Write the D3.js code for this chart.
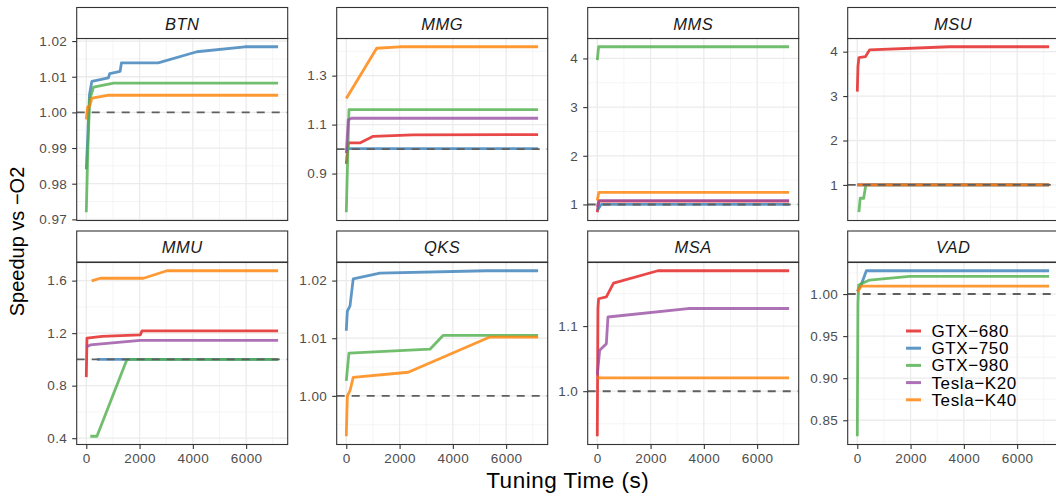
<!DOCTYPE html>
<html>
<head>
<meta charset="utf-8">
<script src="https://cdn.jsdelivr.net/npm/d3@7"></script>
<style>
  html, body { margin: 0; padding: 0; background: #ffffff; }
  svg { display: block; }
  text { font-family: "Liberation Sans", Arial, Helvetica, sans-serif; }
</style>
</head>
<body>
<svg id="chart" width="1056" height="497"></svg>
<script>
// ---------------- DATA ----------------
const panelNames = ["BTN", "MMG", "MMS", "MSU", "MMU", "QKS", "MSA", "VAD"];
const gpuNames = ["GTX\u2212680", "GTX\u2212750", "GTX\u2212980", "Tesla\u2212K20", "Tesla\u2212K40"];
const gpuColors = ["#E41A1C", "#377EB8", "#4DAF4A", "#984EA3", "#FF7F00"];
const xTicks = [0, 2000, 4000, 6000];
const baseline = 1.0;

// [tuning time (s), speedup]
const BTN_GTX750 = [[0,0.984],[50,0.992],[120,1.005],[210,1.0087],[830,1.0097],[880,1.0109],[1270,1.0115],[1320,1.0139],[2700,1.0139],[4150,1.0170],[5950,1.0184],[7200,1.0184]];
const BTN_GTX980 = [[0,0.972],[60,0.990],[125,1.0036],[275,1.0071],[1025,1.0082],[7200,1.0082]];
const BTN_K40    = [[0,0.998],[50,1.0015],[130,1.0018],[210,1.0040],[800,1.0048],[7200,1.0048]];

const MMG_GTX680 = [[0,0.94],[75,1.025],[510,1.025],[1010,1.052],[2500,1.058],[7200,1.059]];
const MMG_GTX750 = [[0,1.0],[100,1.002],[7200,1.002]];
const MMG_GTX980 = [[0,0.742],[100,1.161],[7200,1.161]];
const MMG_K20    = [[0,0.984],[75,1.12],[200,1.126],[7200,1.126]];
const MMG_K40    = [[0,1.207],[1140,1.412],[2000,1.418],[7200,1.418]];

const MMS_GTX680 = [[0,0.84],[60,1.07],[7200,1.07]];
const MMS_GTX750 = [[0,0.88],[150,1.0],[7200,1.0]];
const MMS_GTX980 = [[0,3.965],[50,4.24],[7200,4.24]];
const MMS_K20    = [[0,0.95],[60,1.08],[7200,1.08]];
const MMS_K40    = [[0,1.08],[60,1.25],[7200,1.25]];

const MSU_GTX680 = [[0,3.1],[25,3.66],[60,3.865],[310,3.89],[460,4.04],[3460,4.11],[7200,4.11]];
const MSU_GTX750 = [[0,1.0],[7200,1.0]];
const MSU_GTX980 = [[60,0.385],[110,0.70],[240,0.70],[320,1.0],[7200,1.0]];
const MSU_K20    = [[0,1.0],[7200,1.0]];
const MSU_K40    = [[0,1.0],[7200,1.0]];

const MMU_GTX680 = [[0,0.865],[25,1.162],[590,1.175],[2025,1.187],[2090,1.217],[7200,1.217]];
const MMU_GTX750 = [[400,1.0],[7200,1.0]];
const MMU_GTX980 = [[150,0.415],[400,0.415],[1525,1.0],[7200,1.0]];
const MMU_K20    = [[0,1.094],[150,1.11],[2025,1.145],[7200,1.145]];
const MMU_K40    = [[200,1.598],[525,1.618],[2150,1.618],[3025,1.675],[7200,1.675]];

const QKS_GTX750 = [[0,1.0113],[40,1.0147],[140,1.0156],[260,1.0203],[1260,1.0213],[5260,1.0217],[7200,1.0217]];
const QKS_GTX980 = [[0,1.0026],[100,1.0074],[3140,1.0081],[3640,1.0105],[7200,1.0105]];
const QKS_K40    = [[0,0.9930],[40,1.0],[140,1.0009],[260,1.0032],[2325,1.0041],[5390,1.0102],[7200,1.0102]];

const MSA_GTX680 = [[0,0.9308],[25,1.127],[50,1.142],[340,1.145],[610,1.166],[2275,1.185],[7200,1.185]];
const MSA_K20    = [[0,1.025],[90,1.063],[340,1.073],[400,1.114],[3400,1.127],[7200,1.127]];
const MSA_K40    = [[0,1.0205],[7200,1.0205]];

const VAD_GTX750 = [[0,1.003],[150,1.0115],[340,1.0277],[7200,1.0277]];
const VAD_GTX980 = [[0,0.831],[25,0.989],[50,1.0107],[460,1.0167],[1960,1.021],[7200,1.021]];
const VAD_K40    = [[0,1.003],[150,1.0095],[7200,1.0095]];

// y tick labels per panel
const BTN_yTicks = [0.97, 0.98, 0.99, 1.00, 1.01, 1.02];
const MMG_yTicks = [0.9, 1.1, 1.3];
const MMS_yTicks = [1, 2, 3, 4];
const MSU_yTicks = [1, 2, 3, 4];
const MMU_yTicks = [0.4, 0.8, 1.2, 1.6];
const QKS_yTicks = [1.00, 1.01, 1.02];
const MSA_yTicks = [1.0, 1.1];
const VAD_yTicks = [0.85, 0.90, 0.95, 1.00];

// table built from the arrays above (series order = GPU order)
const panelSeries = {
  BTN: [null, BTN_GTX750, BTN_GTX980, null, BTN_K40],
  MMG: [MMG_GTX680, MMG_GTX750, MMG_GTX980, MMG_K20, MMG_K40],
  MMS: [MMS_GTX680, MMS_GTX750, MMS_GTX980, MMS_K20, MMS_K40],
  MSU: [MSU_GTX680, MSU_GTX750, MSU_GTX980, MSU_K20, MSU_K40],
  MMU: [MMU_GTX680, MMU_GTX750, MMU_GTX980, MMU_K20, MMU_K40],
  QKS: [null, QKS_GTX750, QKS_GTX980, null, QKS_K40],
  MSA: [MSA_GTX680, null, null, MSA_K20, MSA_K40],
  VAD: [null, VAD_GTX750, VAD_GTX980, null, VAD_K40]
};
const panelYTicks = {BTN: BTN_yTicks, MMG: MMG_yTicks, MMS: MMS_yTicks, MSU: MSU_yTicks,
                     MMU: MMU_yTicks, QKS: QKS_yTicks, MSA: MSA_yTicks, VAD: VAD_yTicks};

// ---------------- LAYOUT ----------------
const svg = d3.select("#chart");
const colLeft = [76.7, 336.7, 587.7, 847.7];
const panelW = 211;
const stripTop = [7.5, 231];
const stripH = 31;
const panelTop = [38.5, 262.5];
const panelH = 182;
const FONT = '"Liberation Sans", Arial, Helvetica, sans-serif';

// global x scale (fixed across facets), with 5% expansion
const allT = [];
panelNames.forEach(p => panelSeries[p].forEach(s => { if (s) s.forEach(d => allT.push(d[0])); }));
const tExt = d3.extent(allT);
const tPad = (tExt[1] - tExt[0]) * 0.05;

svg.append("rect").attr("width", 1056).attr("height", 497).attr("fill", "#ffffff");

const defs = svg.append("defs");

panelNames.forEach((name, i) => {
  const row = Math.floor(i / 4), col = i % 4;
  const x0 = colLeft[col], y0 = panelTop[row];
  const g = svg.append("g").attr("transform", `translate(${x0},${y0})`);

  const x = d3.scaleLinear().domain([tExt[0] - tPad, tExt[1] + tPad]).range([0, panelW]);

  const series = panelSeries[name];
  const vals = [baseline];
  series.forEach(s => { if (s) s.forEach(d => vals.push(d[1])); });
  const vExt = d3.extent(vals);
  const vPad = (vExt[1] - vExt[0]) * 0.05;
  const y = d3.scaleLinear().domain([vExt[0] - vPad, vExt[1] + vPad]).range([panelH, 0]);

  // grid
  const yt = panelYTicks[name];
  const step = yt[1] - yt[0];
  const yMinor = [];
  for (let k = -1; k < yt.length; k++) {
    const v = yt[0] + step * (k + 0.5);
    if (v > y.domain()[0] && v < y.domain()[1]) yMinor.push(v);
  }
  const xStep = xTicks[1] - xTicks[0];
  const xMinor = [];
  for (let k = -1; k < xTicks.length; k++) {
    const v = xTicks[0] + xStep * (k + 0.5);
    if (v > x.domain()[0] && v < x.domain()[1]) xMinor.push(v);
  }
  const grid = g.append("g");
  grid.selectAll(".ymin").data(yMinor).join("line")
    .attr("x1", 0).attr("x2", panelW).attr("y1", d => y(d)).attr("y2", d => y(d))
    .attr("stroke", "#f2f2f2").attr("stroke-width", 0.8);
  grid.selectAll(".xmin").data(xMinor).join("line")
    .attr("y1", 0).attr("y2", panelH).attr("x1", d => x(d)).attr("x2", d => x(d))
    .attr("stroke", "#f2f2f2").attr("stroke-width", 0.8);
  grid.selectAll(".ymaj").data(yt).join("line")
    .attr("x1", 0).attr("x2", panelW).attr("y1", d => y(d)).attr("y2", d => y(d))
    .attr("stroke", "#ebebeb").attr("stroke-width", 1.3);
  grid.selectAll(".xmaj").data(xTicks).join("line")
    .attr("y1", 0).attr("y2", panelH).attr("x1", d => x(d)).attr("x2", d => x(d))
    .attr("stroke", "#ebebeb").attr("stroke-width", 1.3);

  // clip
  const cid = "clip" + i;
  defs.append("clipPath").attr("id", cid).append("rect")
    .attr("x", 0).attr("y", 0).attr("width", panelW).attr("height", panelH);
  const plot = g.append("g").attr("clip-path", `url(#${cid})`);

  const line = d3.line().x(d => x(d[0])).y(d => y(d[1]));
  series.forEach((s, k) => {
    if (!s) return;
    plot.append("path").datum(s)
      .attr("d", line)
      .attr("fill", "none")
      .attr("stroke", gpuColors[k])
      .attr("stroke-opacity", 0.8)
      .attr("stroke-width", 2.8)
      .attr("stroke-linejoin", "round");
  });

  // dashed reference line
  plot.append("line")
    .attr("x1", 0).attr("x2", panelW)
    .attr("y1", y(baseline)).attr("y2", y(baseline))
    .attr("stroke", "#5f5f5f").attr("stroke-width", 1.9)
    .attr("stroke-dasharray", "8,7");

  // panel border
  g.append("rect").attr("x", 0).attr("y", 0).attr("width", panelW).attr("height", panelH)
    .attr("fill", "none").attr("stroke", "#333333").attr("stroke-width", 1.1);

  // y axis
  const prec = d3.precisionFixed(step);
  const yAxis = d3.axisLeft(y).tickValues(yt).tickFormat(d3.format("." + prec + "f"))
    .tickSize(4.5).tickPadding(5);
  const ya = g.append("g").call(yAxis);
  ya.select(".domain").remove();
  ya.selectAll(".tick line").attr("stroke", "#333333").attr("stroke-width", 1.1);
  ya.selectAll(".tick text").attr("fill", "#4d4d4d").style("font-family", FONT)
    .style("font-size", "13.5px").style("letter-spacing", "0.4px");

  // x axis on bottom row only
  if (row === 1) {
    const xAxis = d3.axisBottom(x).tickValues(xTicks).tickFormat(d3.format("d"))
      .tickSize(4.5).tickPadding(4);
    const xa = g.append("g").attr("transform", `translate(0,${panelH})`).call(xAxis);
    xa.select(".domain").remove();
    xa.selectAll(".tick line").attr("stroke", "#333333").attr("stroke-width", 1.1);
    xa.selectAll(".tick text").attr("fill", "#4d4d4d").style("font-family", FONT)
      .style("font-size", "13.5px").style("letter-spacing", "0.4px");
  }

  // strip
  const sg = svg.append("g").attr("transform", `translate(${x0},${stripTop[row]})`);
  sg.append("rect").attr("width", panelW).attr("height", stripH)
    .attr("fill", "#ffffff").attr("stroke", "#333333").attr("stroke-width", 1.1);
  sg.append("text").attr("x", panelW / 2).attr("y", stripH / 2 + 6.5)
    .attr("text-anchor", "middle").attr("fill", "#1a1a1a")
    .style("font-family", FONT).style("font-size", "16.5px").style("font-style", "italic")
    .style("letter-spacing", "0.5px")
    .text(name);
});

// axis titles
svg.append("text")
  .attr("x", (colLeft[0] + colLeft[3] + panelW) / 2).attr("y", 488)
  .attr("text-anchor", "middle").attr("fill", "#000")
  .style("font-family", FONT).style("font-size", "22.5px").style("letter-spacing", "0.5px")
  .text("Tuning Time (s)");

svg.append("text")
  .attr("transform", `translate(24,${(panelTop[0] + panelTop[1] + panelH) / 2}) rotate(-90)`)
  .attr("text-anchor", "middle").attr("fill", "#000")
  .style("font-family", FONT).style("font-size", "20px")
  .text("Speedup vs \u2212O2");

// legend inside VAD panel
const leg = svg.append("g").attr("transform", "translate(906,331)");
gpuNames.forEach((n, k) => {
  const gy = k * 17.2;
  leg.append("line").attr("x1", 0).attr("x2", 15).attr("y1", gy).attr("y2", gy)
    .attr("stroke", gpuColors[k]).attr("stroke-opacity", 0.8).attr("stroke-width", 3);
  leg.append("text").attr("x", 25.5).attr("y", gy + 6)
    .attr("fill", "#000").style("font-family", FONT).style("font-size", "17px")
    .style("letter-spacing", "0.6px")
    .text(n);
});
</script>
</body>
</html>
